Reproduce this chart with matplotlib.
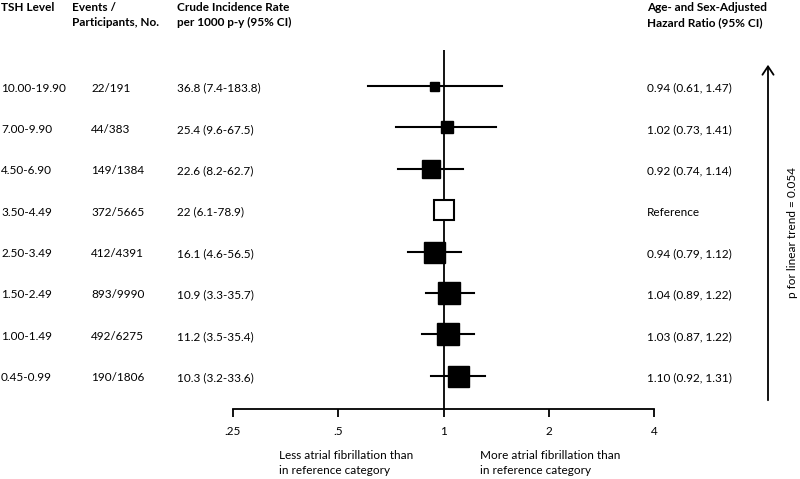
import matplotlib
matplotlib.use("Agg")
import matplotlib.pyplot as plt
from matplotlib.transforms import blended_transform_factory, offset_copy

plt.rcParams['font.family'] = ['Lato', 'DejaVu Sans']

tsh = ["10.00-19.90", "7.00-9.90", "4.50-6.90", "3.50-4.49", "2.50-3.49",
       "1.50-2.49", "1.00-1.49", "0.45-0.99"]
events = ["22/191", "44/383", "149/1384", "372/5665", "412/4391",
          "893/9990", "492/6275", "190/1806"]
crude = ["36.8 (7.4-183.8)", "25.4 (9.6-67.5)", "22.6 (8.2-62.7)", "22 (6.1-78.9)",
         "16.1 (4.6-56.5)", "10.9 (3.3-35.7)", "11.2 (3.5-35.4)", "10.3 (3.2-33.6)"]
hr = [0.94, 1.02, 0.92, 1.00, 0.94, 1.04, 1.03, 1.10]
lo = [0.61, 0.73, 0.74, None, 0.79, 0.89, 0.87, 0.92]
hi = [1.47, 1.41, 1.14, None, 1.12, 1.22, 1.22, 1.31]
hr_text = ["0.94 (0.61, 1.47)", "1.02 (0.73, 1.41)", "0.92 (0.74, 1.14)", "Reference",
           "0.94 (0.79, 1.12)", "1.04 (0.89, 1.22)", "1.03 (0.87, 1.22)", "1.10 (0.92, 1.31)"]
ticks = [0.25, 0.5, 1, 2, 4]
tick_labels = [".25", ".5", "1", "2", "4"]

# square side (px) reflecting weights
sq_px = [9, 12, 18, 20, 21, 23, 22, 21]

W, H = 800, 479
fig = plt.figure(figsize=(8, 4.79), dpi=100)
ax_left, ax_right = 233, 654
ax_top, ax_bot = 50, 409
ax = fig.add_axes([ax_left / W, 1 - ax_bot / H, (ax_right - ax_left) / W, (ax_bot - ax_top) / H])
ax.set_xscale('log', base=2)
ax.set_xlim(0.25, 4)
row0, step = 86, 41.4
ax.set_ylim((ax_bot - row0) / step, (ax_top - row0) / step)

for s in ['top', 'right', 'left']:
    ax.spines[s].set_visible(False)
ax.spines['bottom'].set_linewidth(1.3)
ax.set_yticks([])
ax.set_xticks(ticks)
ax.set_xticklabels(tick_labels)
ax.minorticks_off()
ax.tick_params(axis='x', direction='out', length=6, width=1.3, labelsize=8.5, pad=6)

ax.axvline(1, color='black', lw=1.3, zorder=1)

for i in range(len(hr)):
    if lo[i] is not None:
        ax.plot([lo[i], hi[i]], [i, i], color='black', lw=1.5, zorder=2)
        ax.plot(hr[i], i, marker='s', ms=sq_px[i] * 0.72, mfc='black', mec='black', zorder=3)
    else:
        ax.plot(hr[i], i, marker='s', ms=sq_px[i] * 0.72, mfc='white', mec='black',
                mew=1.5, zorder=3)

tr = offset_copy(blended_transform_factory(fig.transFigure, ax.transData),
                 fig=fig, x=0, y=-2, units='dots')
fs = 8.5
for i in range(len(hr)):
    ax.text(1 / W, i, tsh[i], transform=tr, fontsize=fs, va='center', ha='left')
    ax.text(91 / W, i, events[i], transform=tr, fontsize=fs, va='center', ha='left')
    ax.text(177 / W, i, crude[i], transform=tr, fontsize=fs, va='center', ha='left')
    ax.text(647 / W, i, hr_text[i], transform=tr, fontsize=fs, va='center', ha='left')

hdr = dict(fontsize=8.5, fontweight='bold', va='top', ha='left', linespacing=1.45)
fig.text(1 / W, 1 - 2 / H, "TSH Level", **hdr)
fig.text(72 / W, 1 - 2 / H, "Events /\nParticipants, No.", **hdr)
fig.text(177 / W, 1 - 2 / H, "Crude Incidence Rate\nper 1000 p-y (95% CI)", **hdr)
fig.text(647 / W, 1 - 2 / H, "Age- and Sex-Adjusted\nHazard Ratio (95% CI)", **hdr)

fig.text(279 / W, 1 - 450 / H, "Less atrial fibrillation than\nin reference category",
         fontsize=8.5, va='top', ha='left', linespacing=1.5)
fig.text(480 / W, 1 - 450 / H, "More atrial fibrillation than\nin reference category",
         fontsize=8.5, va='top', ha='left', linespacing=1.5)

fig.add_artist(matplotlib.patches.FancyArrowPatch(
    (768 / W, 1 - 403 / H), (768 / W, 1 - 62 / H), transform=fig.transFigure,
    arrowstyle='->,head_length=6,head_width=4', color='black', lw=1.3, mutation_scale=1))
fig.text(793 / W, 1 - 233 / H, "p for linear trend = 0.054", rotation=90,
         fontsize=8.5, va='center', ha='center')

fig.savefig("out.png", dpi=100)
